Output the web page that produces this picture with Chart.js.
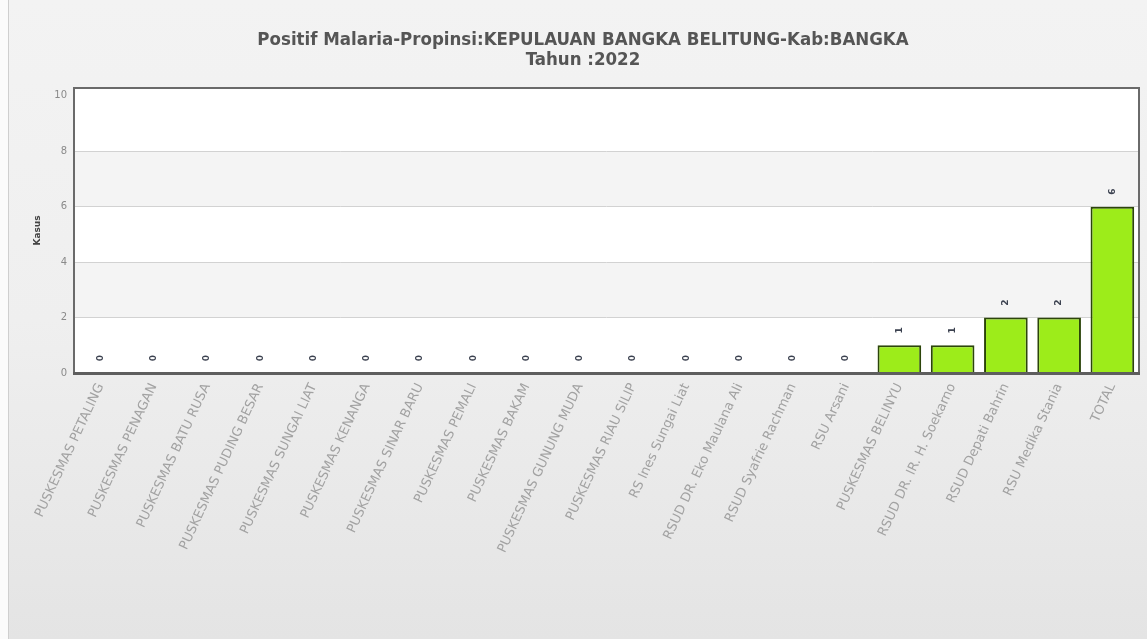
<!DOCTYPE html>
<html>
<head>
<meta charset="utf-8">
<script src="https://cdn.jsdelivr.net/npm/chart.js@4.4.1/dist/chart.umd.min.js"></script>
<style>
  html, body { margin: 0; padding: 0; width: 1147px; height: 639px; overflow: hidden; background: #fbfbfb; }
  #wrap {
    position: absolute; left: 8px; top: 0; width: 1148px; height: 639px;
    border-left: 1px solid #cfcfcf;
    background: linear-gradient(to bottom, #f3f3f3 0%, #efefef 50%, #e4e4e4 100%);
  }
  canvas { position: absolute; left: 0; top: 0; }
</style>
</head>
<body>
<div id="wrap"><canvas id="c" width="1148" height="639"></canvas></div>
<script>
// Kasus positif malaria per fasilitas kesehatan, Kab. Bangka, 2022
const titleLines = [
  'Positif Malaria-Propinsi:KEPULAUAN BANGKA BELITUNG-Kab:BANGKA',
  'Tahun :2022'
];
const facilities = [
  'PUSKESMAS PETALING',
  'PUSKESMAS PENAGAN',
  'PUSKESMAS BATU RUSA',
  'PUSKESMAS PUDING BESAR',
  'PUSKESMAS SUNGAI LIAT',
  'PUSKESMAS KENANGA',
  'PUSKESMAS SINAR BARU',
  'PUSKESMAS PEMALI',
  'PUSKESMAS BAKAM',
  'PUSKESMAS GUNUNG MUDA',
  'PUSKESMAS RIAU SILIP',
  'RS Ines Sungai Liat',
  'RSUD DR. Eko Maulana Ali',
  'RSUD Syafrie Rachman',
  'RSU Arsani',
  'PUSKESMAS BELINYU',
  'RSUD DR. IR. H. Soekarno',
  'RSUD Depati Bahrin',
  'RSU Medika Stania',
  'TOTAL'
];
const kasus = [0, 0, 0, 0, 0, 0, 0, 0, 0, 0, 0, 0, 0, 0, 0, 1, 1, 2, 2, 6];
const yTicks = [0, 2, 4, 6, 8, 10];
const yAxisTitle = 'Kasus';

// alternating light bands between grid lines
const bandPlugin = {
  id: 'bands',
  beforeDraw(chart) {
    const { ctx, chartArea: a, scales: { y } } = chart;
    ctx.save();
    ctx.fillStyle = '#ffffff';
    ctx.fillRect(a.left, a.top, a.right - a.left, a.bottom - a.top);
    ctx.fillStyle = '#f4f4f4';
    for (let i = 1; i < yTicks.length - 1; i += 2) {
      const y0 = y.getPixelForValue(yTicks[i]);
      const y1 = y.getPixelForValue(yTicks[i + 1]);
      ctx.fillRect(a.left, y1, a.right - a.left, y0 - y1);
    }
    ctx.restore();
  }
};

// plot frame and vertical value labels
const framePlugin = {
  id: 'frame',
  afterDatasetsDraw(chart) {
    const { ctx, chartArea: a } = chart;
    ctx.save();
    ctx.strokeStyle = '#6a6a6a';
    ctx.lineWidth = 2;
    ctx.beginPath();
    ctx.moveTo(a.left, a.bottom);
    ctx.lineTo(a.left, a.top);
    ctx.lineTo(a.right, a.top);
    ctx.lineTo(a.right, a.bottom);
    ctx.stroke();
    ctx.lineWidth = 3;
    ctx.strokeStyle = '#5e5e5e';
    ctx.beginPath();
    ctx.moveTo(a.left - 1, a.bottom + 0.5);
    ctx.lineTo(a.right + 1, a.bottom + 0.5);
    ctx.stroke();

    const meta = chart.getDatasetMeta(0);
    ctx.fillStyle = '#3c4250';
    ctx.font = 'bold 9px "DejaVu Sans"';
    ctx.textAlign = 'center';
    ctx.textBaseline = 'middle';
    meta.data.forEach((bar, i) => {
      ctx.save();
      ctx.translate(bar.x, bar.y - 15);
      ctx.rotate(-Math.PI / 2);
      ctx.fillText(String(kasus[i]), 0, 0);
      ctx.restore();
    });
    ctx.restore();
  }
};

new Chart(document.getElementById('c'), {
  type: 'bar',
  data: {
    labels: facilities,
    datasets: [{
      data: kasus,
      backgroundColor: '#9dec1a',
      borderColor: '#2c450a',
      borderWidth: { top: 2, left: 2, right: 2, bottom: 0 },
      borderSkipped: 'bottom',
      barPercentage: 0.82,
      categoryPercentage: 1
    }]
  },
  options: {
    responsive: false,
    animation: false,
    events: [],
    layout: { padding: { left: 18, right: 18, top: 0, bottom: 0 } },
    plugins: {
      legend: { display: false },
      tooltip: { enabled: false },
      title: {
        display: true,
        text: titleLines,
        color: '#555555',
        font: { family: '"DejaVu Sans Condensed", "DejaVu Sans"', size: 18.5, weight: 'bold', lineHeight: '20px' },
        padding: { top: 30, bottom: 18 }
      }
    },
    scales: {
      x: {
        grid: { display: false, drawTicks: false },
        border: { display: false },
        ticks: {
          autoSkip: false,
          minRotation: 65,
          maxRotation: 65,
          padding: 8,
          color: '#a2a2a2',
          font: { family: '"DejaVu Sans"', size: 13 }
        },
        afterFit(scale) { scale.height = 266; }
      },
      y: {
        min: 0,
        max: 10.28,
        afterBuildTicks(scale) { scale.ticks = yTicks.map(v => ({ value: v })); },
        grid: {
          drawTicks: false,
          color: ctx => (ctx.tick && (ctx.tick.value === 0 || ctx.tick.value === 10)) ? 'rgba(0,0,0,0)' : '#d2d2d2',
          lineWidth: 1
        },
        border: { display: false },
        ticks: {
          padding: 7,
          color: '#8a8a8a',
          font: { family: '"DejaVu Sans"', size: 10 }
        },
        title: {
          display: true,
          text: yAxisTitle,
          color: '#444444',
          font: { family: '"DejaVu Sans"', size: 9, weight: 'bold' },
          padding: { top: 5, bottom: 0 }
        },
        afterFit(scale) { scale.width = 47; }
      }
    }
  },
  plugins: [bandPlugin, framePlugin]
});
</script>
</body>
</html>
